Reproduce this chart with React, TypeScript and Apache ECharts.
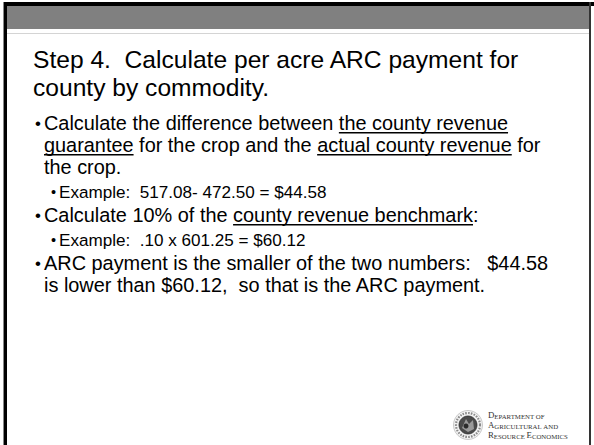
import React, { useEffect, useRef } from 'react';
import * as echarts from 'echarts';

type Seg = { t: string; u?: boolean };
type Line = { segs: Seg[]; level: 0 | 1; bullet: boolean; baseline: number };

const titleLines: string[] = ['Step 4.  Calculate per acre ARC payment for', 'county by commodity.'];
const titleBaselines: number[] = [68, 96];

const bodyLines: Line[] = [
  { segs: [{ t: 'Calculate the difference between ' }, { t: 'the county revenue', u: true }], level: 0, bullet: true, baseline: 130 },
  { segs: [{ t: 'guarantee', u: true }, { t: ' for the crop and the ' }, { t: 'actual county revenue', u: true }, { t: ' for' }], level: 0, bullet: false, baseline: 152 },
  { segs: [{ t: 'the crop.' }], level: 0, bullet: false, baseline: 174 },
  { segs: [{ t: 'Example:  517.08- 472.50 = $44.58' }], level: 1, bullet: true, baseline: 198 },
  { segs: [{ t: 'Calculate 10% of the ' }, { t: 'county revenue benchmark', u: true }, { t: ':' }], level: 0, bullet: true, baseline: 222 },
  { segs: [{ t: 'Example:  .10 x 601.25 = $60.12' }], level: 1, bullet: true, baseline: 246 },
  { segs: [{ t: 'ARC payment is the smaller of the two numbers:   $44.58' }], level: 0, bullet: true, baseline: 270 },
  { segs: [{ t: 'is lower than $60.12,  so that is the ARC payment.' }], level: 0, bullet: false, baseline: 292 },
];

const logoLines: string[][] = [
  ['D', 'EPARTMENT OF'],
  ['A', 'GRICULTURAL AND'],
  ['R', 'ESOURCE ', 'E', 'CONOMICS'],
];

const SANS = '"Liberation Sans", Arial, sans-serif';
const SERIF = '"Liberation Serif", "Times New Roman", serif';

const nb = (s: string) => s.replace(/ {2}/g, ' \u00a0').replace(/\u00a0 /g, '\u00a0\u00a0');

export default function App() {
  const ref = useRef<HTMLDivElement>(null);
  useEffect(() => {
    document.body.style.margin = '0';
    const chart = echarts.init(ref.current!, null, { renderer: 'svg' });
    const ctx = document.createElement('canvas').getContext('2d')!;
    const measure = (text: string, size: number, fam = SANS) => {
      ctx.font = `${size}px ${fam}`;
      return ctx.measureText(text).width;
    };
    const els: any[] = [];
    // frame
    els.push({ type: 'rect', shape: { x: 0, y: 0, width: 594, height: 445 }, style: { fill: '#fff' } });
    els.push({ type: 'rect', shape: { x: 7, y: 6, width: 583, height: 23 }, style: { fill: '#808080' } });
    els.push({ type: 'rect', shape: { x: 3, y: 2, width: 591, height: 4 }, style: { fill: '#000' } });
    els.push({ type: 'rect', shape: { x: 3, y: 2, width: 1, height: 443 }, style: { fill: '#888' } });
    els.push({ type: 'rect', shape: { x: 4, y: 2, width: 3, height: 443 }, style: { fill: '#000' } });
    els.push({ type: 'rect', shape: { x: 7, y: 33, width: 583, height: 1 }, style: { fill: '#d4d4d4' } });
    els.push({ type: 'rect', shape: { x: 589, y: 2, width: 2, height: 443 }, style: { fill: '#333' } });

    // title
    const tfs = 24.6;
    titleLines.forEach((t, i) => {
      els.push({
        type: 'text',
        style: { text: nb(t), x: 33, y: titleBaselines[i] - 0.35 * tfs, fontSize: tfs, fontFamily: SANS, fill: '#000', verticalAlign: 'middle' },
      });
    });

    // body
    bodyLines.forEach((ln) => {
      const fs = ln.level === 0 ? 19.9 : 17.1;
      const tx = ln.level === 0 ? 44 : 59;
      const bx = ln.level === 0 ? 35 : 51;
      const cy = ln.baseline - 0.35 * fs;
      if (ln.bullet) {
        els.push({ type: 'text', style: { text: '•', x: bx, y: cy, fontSize: fs * 0.85, fontFamily: SANS, fill: '#000', verticalAlign: 'middle' } });
      }
      let x = tx;
      ln.segs.forEach((s) => {
        const txt = nb(s.t);
        const w = measure(txt, fs);
        els.push({ type: 'text', style: { text: txt, x, y: cy, fontSize: fs, fontFamily: SANS, fill: '#000', verticalAlign: 'middle' } });
        if (s.u) {
          els.push({ type: 'rect', shape: { x, y: ln.baseline + 2, width: w, height: 1.5 }, style: { fill: '#000' } });
        }
        x += w;
      });
    });

    // logo seal
    const cx = 468, cyy = 425;
    els.push({ type: 'circle', shape: { cx, cy: cyy, r: 14.5 }, style: { fill: '#f4f4f4', stroke: '#bbb', lineWidth: 0.8 } });
    els.push({ type: 'circle', shape: { cx, cy: cyy, r: 12 }, style: { fill: 'none', stroke: '#8a8a8a', lineWidth: 2.2, lineDash: [1.6, 1.2] } });
    els.push({ type: 'circle', shape: { cx, cy: cyy, r: 9 }, style: { fill: '#4a4a4a', stroke: '#2a2a2a', lineWidth: 0.8 } });
    els.push({ type: 'polygon', shape: { points: [[cx - 6, cyy + 3], [cx - 2, cyy - 6], [cx + 1, cyy - 1], [cx + 5, cyy - 5], [cx + 6, cyy + 4], [cx, cyy + 7]] }, style: { fill: '#9a9a9a' } });
    els.push({ type: 'circle', shape: { cx: cx - 2, cy: cyy + 1, r: 2.5 }, style: { fill: '#2a2a2a' } });

    // logo text
    const big = 8.8, small = 6.8;
    logoLines.forEach((parts, i) => {
      let x = 488;
      const base = 418.5 + i * 10;
      parts.forEach((p, j) => {
        const isBig = j % 2 === 0;
        const fs = isBig ? big : small;
        const txt = p.replace(/ /g, '\u00a0');
        els.push({ type: 'text', style: { text: txt, x, y: base - 0.35 * fs, fontSize: fs, fontFamily: SERIF, fill: '#333', verticalAlign: 'middle' } });
        x += measure(txt, fs, SERIF);
      });
    });

    chart.setOption({ animation: false, graphic: { elements: els } });
    return () => chart.dispose();
  }, []);
  return <div ref={ref} style={{ position: 'absolute', left: 0, top: 0, width: 594, height: 445 }} />;
}
